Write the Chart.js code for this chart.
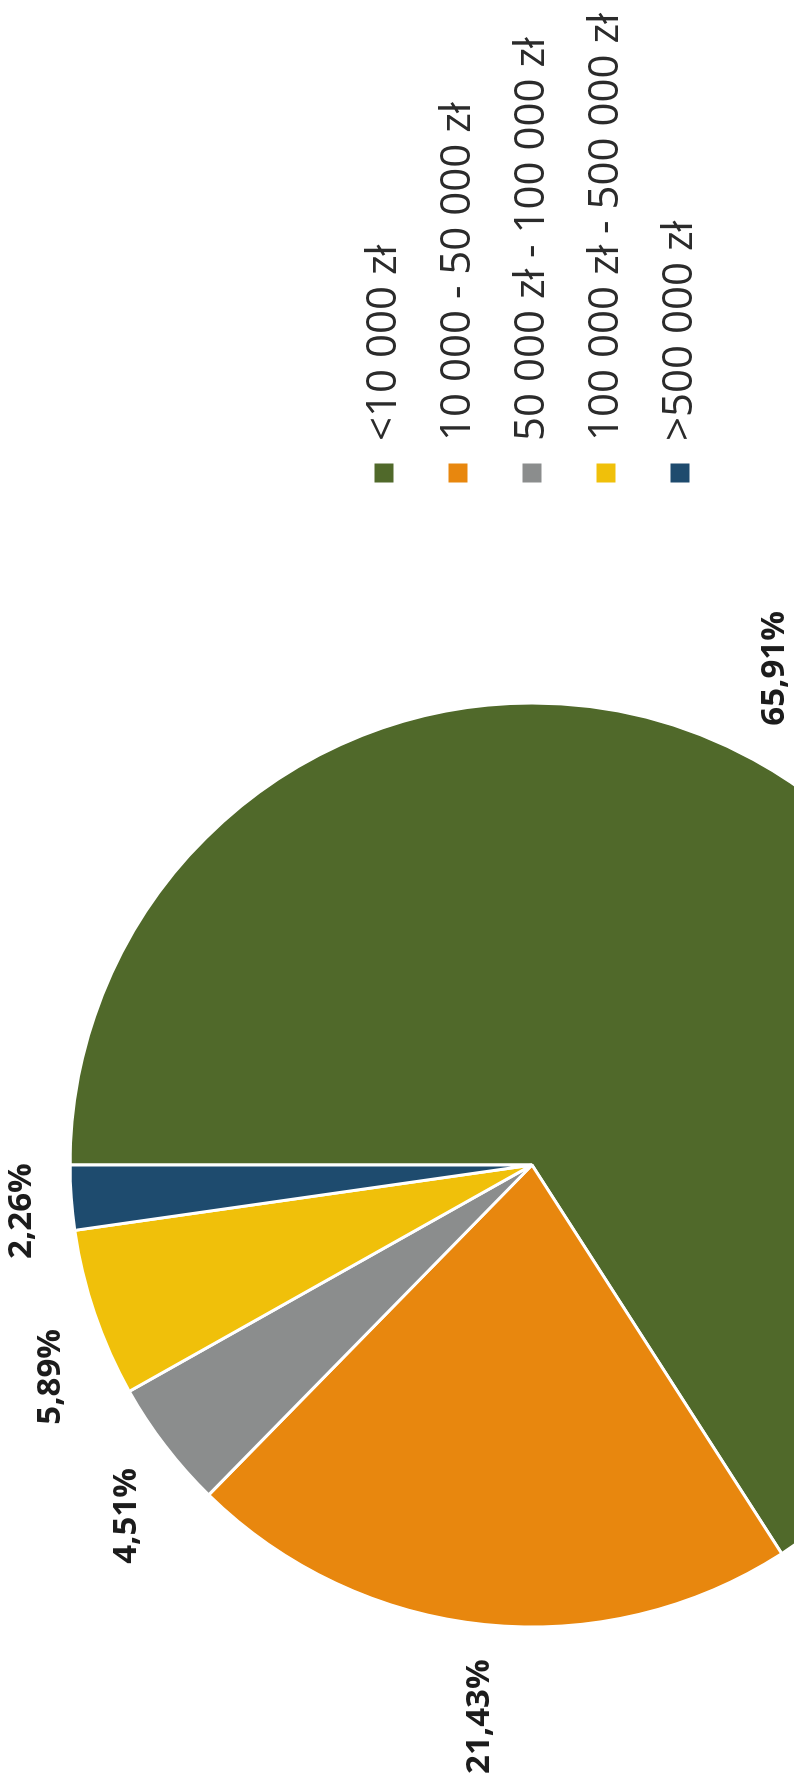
<!DOCTYPE html>
<html lang="pl">
<head>
<meta charset="utf-8">
<title>Struktura wartości</title>
<script src="https://cdn.jsdelivr.net/npm/chart.js@4.4.1/dist/chart.umd.min.js"></script>
<style>
    html, body {
        margin: 0;
        padding: 0;
        width: 794px;
        height: 1780px;
        overflow: hidden;
        background: #ffffff;
    }
    /* page is scanned sideways, so the chart is drawn upright and turned */
    #wrap {
        position: absolute;
        left: 0;
        top: 0;
        width: 1814px;
        height: 1064px;
        transform-origin: 0 0;
        transform: translateY(1814px) rotate(-90deg);
    }
</style>
</head>
<body>
<div id="wrap">
    <canvas id="shareChart" width="1814" height="1064"></canvas>
</div>
<script>
// Chart data
const categories = ['<10 000 zł', '10 000 - 50 000 zł', '50 000 zł - 100 000 zł', '100 000 zł - 500 000 zł', '>500 000 zł'];
const shares = [65.91, 21.43, 4.51, 5.89, 2.26];
const sliceColors = ['#50692a', '#e8870e', '#8b8d8d', '#f0c00a', '#1e4b6e'];

// where the legend column should start (canvas px), pie sits centred left of it
const LEGEND_LEFT = 1298;

/**
 * Percent labels outside each slice (Excel "outside end" style)
 */
const outsideLabels = {
    id: 'outsideLabels',
    afterDatasetsDraw(chart, args, opts) {
        const ctx = chart.ctx;
        const meta = chart.getDatasetMeta(0);
        ctx.save();
        ctx.font = opts.font;
        ctx.fillStyle = opts.color;
        ctx.textAlign = 'center';
        ctx.textBaseline = 'middle';
        meta.data.forEach((arc, i) => {
            const p = arc.getProps(['x', 'y', 'startAngle', 'endAngle', 'outerRadius'], true);
            const text = shares[i].toFixed(2).replace('.', ',') + '%';
            const halfW = ctx.measureText(text).width / 2;
            const halfH = opts.halfHeight;
            const mid = (p.startAngle + p.endAngle) / 2 + (opts.nudge[i] || 0) * Math.PI / 180;
            const cx = Math.cos(mid), cy = Math.sin(mid);
            const extent = halfW * Math.abs(cx) + halfH * Math.abs(cy);
            const dist = p.outerRadius + opts.gap + extent;
            ctx.fillText(text, p.x + cx * dist, p.y + cy * dist);
        });
        ctx.restore();
    }
};

function createShareChart(canvasId) {
    const ctx = document.getElementById(canvasId);
    if (!ctx) return;

    Chart.defaults.font.family = "'Open Sans', 'DejaVu Sans', sans-serif";

    const chart = new Chart(ctx, {
        type: 'pie',
        data: {
            labels: categories,
            datasets: [{
                data: shares,
                backgroundColor: sliceColors,
                borderColor: '#ffffff',
                borderWidth: 3,
                hoverOffset: 0,
                radius: 462
            }]
        },
        options: {
            responsive: false,
            animation: false,
            events: [],
            layout: {
                padding: { left: 0, right: 12, top: 0, bottom: 0 }
            },
            plugins: {
                legend: {
                    display: true,
                    position: 'right',
                    align: 'center',
                    labels: {
                        boxWidth: 22,
                        boxHeight: 22,
                        padding: 32,
                        color: '#2b2b2b',
                        font: { size: 42 }
                    }
                },
                tooltip: { enabled: false },
                outsideLabels: {
                    font: "bold 33px 'Open Sans', 'DejaVu Sans', sans-serif",
                    color: '#1c1c1c',
                    gap: 34,
                    halfHeight: 12,
                    nudge: [-2.6, -0.4, -3.4, -5, -1.1]
                }
            }
        },
        plugins: [outsideLabels]
    });

    // legend width depends on font metrics, so pin its left edge afterwards
    const shift = chart.legend.left - LEGEND_LEFT;
    if (Math.abs(shift) > 0.5) {
        chart.options.layout.padding.right += shift;
        chart.update();
    }
    return chart;
}

createShareChart('shareChart');
</script>
</body>
</html>
